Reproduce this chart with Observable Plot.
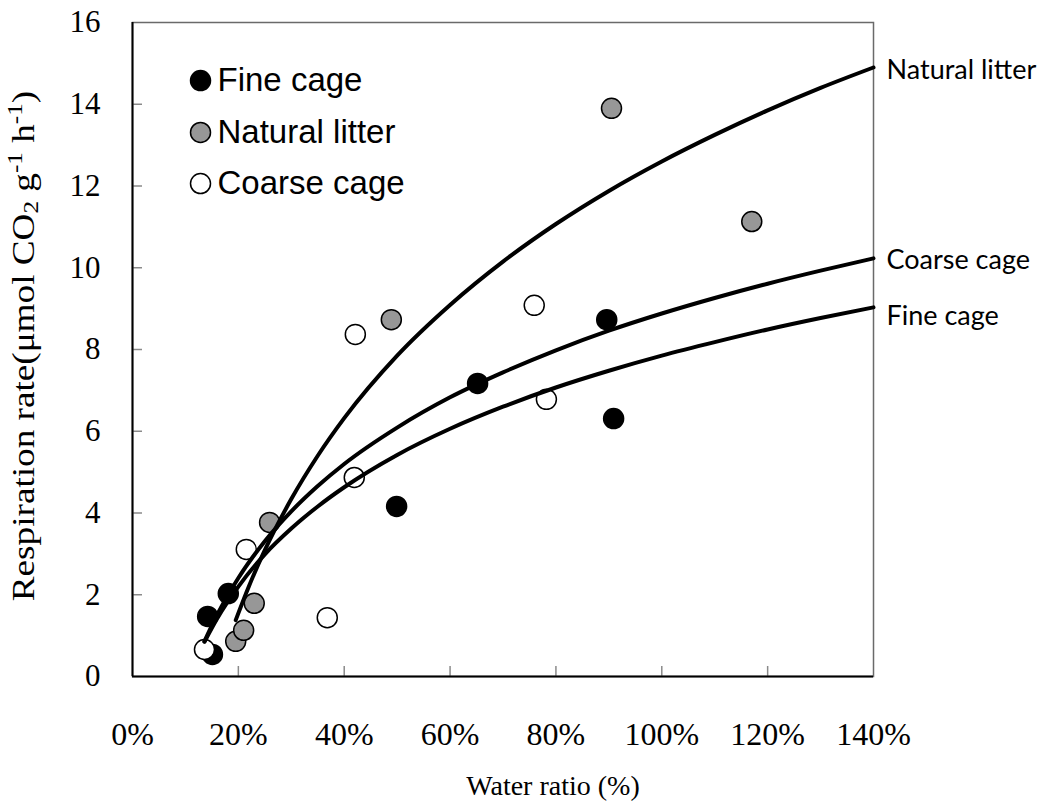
<!DOCTYPE html>
<html>
<head>
<meta charset="utf-8">
<script src="https://cdn.jsdelivr.net/npm/d3@7"></script>
<script src="https://cdn.jsdelivr.net/npm/@observablehq/plot@0.6"></script>
<style>
  body { margin: 0; background: #fff; }
  svg { display: block; }
</style>
</head>
<body>
<div id="chart"></div>
<script>
// Axis ticks
const xTicks = [0, 20, 40, 60, 80, 100, 120, 140];
const yTicks = [0, 2, 4, 6, 8, 10, 12, 14, 16];

// Treatments
const seriesNames = ["Fine cage", "Natural litter", "Coarse cage"];
const seriesFill = ["#000000", "#979797", "#ffffff"];

// Measured respiration rate vs water ratio (%)
const fineX = [14.2, 15.1, 18.1, 49.9, 65.2, 89.6, 90.9];
const fineY = [1.47, 0.54, 2.03, 4.16, 7.17, 8.73, 6.31];
const naturalX = [19.5, 21.0, 23.0, 25.9, 48.9, 90.5, 117.0];
const naturalY = [0.86, 1.13, 1.79, 3.77, 8.73, 13.9, 11.13];
const coarseX = [13.6, 21.5, 36.8, 41.9, 42.1, 75.9, 78.2];
const coarseY = [0.66, 3.11, 1.44, 4.87, 8.37, 9.08, 6.78];

// Logarithmic trend curves, sampled along water ratio (%)
const fineCurveX = [13.6, 16, 20, 25, 30, 35, 40, 50, 60, 70, 80, 90, 100, 110, 120, 130, 140];
const fineCurveY = [0.85, 1.42, 2.20, 2.99, 3.62, 4.16, 4.63, 5.42, 6.06, 6.60, 7.07, 7.48, 7.85, 8.18, 8.49, 8.77, 9.03];
const coarseCurveX = [13.6, 16, 20, 25, 30, 35, 40, 50, 60, 70, 80, 90, 100, 110, 120, 130, 140];
const coarseCurveY = [0.86, 1.51, 2.41, 3.31, 4.04, 4.66, 5.20, 6.09, 6.83, 7.44, 7.98, 8.46, 8.88, 9.26, 9.61, 9.93, 10.23];
const naturalCurveX = [19.5, 22, 25, 30, 35, 40, 50, 60, 70, 80, 90, 100, 110, 120, 130, 140];
const naturalCurveY = [1.38, 2.21, 3.09, 4.34, 5.40, 6.32, 7.85, 9.09, 10.15, 11.07, 11.88, 12.6, 13.25, 13.85, 14.40, 14.90];

// End-of-curve labels
const curveLabelNames = ["Natural litter", "Coarse cage", "Fine cage"];
const curveLabelY = [14.83, 10.18, 8.81];

// Legend rows (data units inside the frame)
const legendX = 12.85;
const legendY = [14.58, 13.31, 12.06];

const toRows = (series, xs, ys) => xs.map((x, i) => ({series, x, y: ys[i]}));
const points = [
  ...toRows("Fine cage", fineX, fineY),
  ...toRows("Natural litter", naturalX, naturalY),
  ...toRows("Coarse cage", coarseX, coarseY)
];
const curves = [
  ...toRows("Fine cage", fineCurveX, fineCurveY),
  ...toRows("Natural litter", naturalCurveX, naturalCurveY),
  ...toRows("Coarse cage", coarseCurveX, coarseCurveY)
];
const curveLabels = curveLabelNames.map((series, i) => ({series, y: curveLabelY[i]}));
const legend = seriesNames.map((series, i) => ({series, x: legendX, y: legendY[i]}));

const W = 1047, H = 808;
const mL = 132, mR = 174, mT = 22, mB = 132;
const innerW = W - mL - mR, innerH = H - mT - mB;
const SERIF = "Liberation Serif";
const TALL = 1.2; // vertical stretch of the serif axis text

const chart = Plot.plot({
  width: W,
  height: H,
  marginLeft: mL,
  marginRight: mR,
  marginTop: mT,
  marginBottom: mB,
  style: {background: "#fff", fontFamily: SERIF, fontSize: "32px", color: "#000"},
  x: {domain: [0, 140], axis: null},
  y: {domain: [0, 16], axis: null},
  color: {domain: seriesNames, range: seriesFill},
  marks: [
    Plot.frame({stroke: "#6a6a6a", strokeWidth: 1.5}),
    // inward tick marks
    Plot.tickX(xTicks.slice(1, -1), {x: d => d, stroke: "#8a8a8a", strokeWidth: 1.5, insetTop: innerH - 10}),
    Plot.tickY(yTicks.slice(1, -1), {y: d => d, stroke: "#8a8a8a", strokeWidth: 1.5, insetRight: innerW - 10}),
    // tick labels
    Plot.text(xTicks, {x: d => d, frameAnchor: "bottom", dy: 68, text: d => d + "%",
      fontFamily: SERIF, fontSize: 32, fill: "#000", ariaLabel: "x tick labels"}),
    Plot.text(yTicks, {y: d => d, frameAnchor: "left", dx: -32, textAnchor: "end", text: d => String(d),
      fontFamily: SERIF, fontSize: 31, fill: "#000", ariaLabel: "y tick labels"}),
    Plot.ruleX([0], {stroke: "#000", strokeWidth: 2}),
    Plot.ruleY([0], {stroke: "#000", strokeWidth: 2}),
    // observations
    Plot.dot(points, {x: "x", y: "y", r: 10, fill: "series", stroke: "#000", strokeWidth: 1.5}),
    // trend curves
    Plot.line(curves, {x: "x", y: "y", z: "series", stroke: "#000", strokeWidth: 4, curve: "monotone-x"}),
    Plot.text(curveLabels, {x: () => 140, y: "y", text: "series", textAnchor: "start", dx: 13,
      fontFamily: "Lato", fontSize: 27, fill: "#000"}),
    // legend
    Plot.dot(legend, {x: "x", y: "y", r: 10, fill: "series", stroke: "#000", strokeWidth: 1.5}),
    Plot.text(legend, {x: "x", y: "y", text: "series", textAnchor: "start", dx: 17,
      fontFamily: "Liberation Sans", fontSize: 33, fill: "#000"}),
    // x axis title
    Plot.text(["Water ratio (%)"], {frameAnchor: "bottom", dx: 50, dy: 118, fontFamily: SERIF, fontSize: 28,
      fill: "#000", ariaLabel: "x title"})
  ]
});

const svg = d3.select(chart);

// stretch axis text vertically about its anchor point
function stretch(selection, sx, sy) {
  selection.each(function() {
    const x = +this.getAttribute("x") || 0, y = +this.getAttribute("y") || 0;
    const t = this.getAttribute("transform") || "";
    this.removeAttribute("x");
    this.removeAttribute("y");
    this.setAttribute("transform", `${t} translate(${x},${y}) scale(${sx},${sy})`);
  });
}
stretch(svg.selectAll('g[aria-label="x tick labels"] text'), 1, TALL);
stretch(svg.selectAll('g[aria-label="y tick labels"] text'), 1, TALL);
stretch(svg.selectAll('g[aria-label="x title"] text'), 1, TALL);

// y axis title with subscript and superscripts
const yTitle = svg.append("text")
  .attr("transform", `translate(27,346) rotate(-90) scale(${TALL},1)`)
  .attr("text-anchor", "middle")
  .attr("dominant-baseline", "middle")
  .attr("font-family", SERIF)
  .attr("font-size", 31)
  .attr("fill", "#000");
yTitle.append("tspan").text("Respiration rate(\u03bcmol CO");
yTitle.append("tspan").attr("font-size", 21).attr("dy", 6).text("2");
yTitle.append("tspan").attr("dy", -6).text(" g");
yTitle.append("tspan").attr("font-size", 21).attr("dy", -10).text("-1");
yTitle.append("tspan").attr("dy", 10).text(" h");
yTitle.append("tspan").attr("font-size", 21).attr("dy", -10).text("-1");
yTitle.append("tspan").attr("dy", 10).text(")");

document.getElementById("chart").appendChild(chart);
</script>
</body>
</html>
